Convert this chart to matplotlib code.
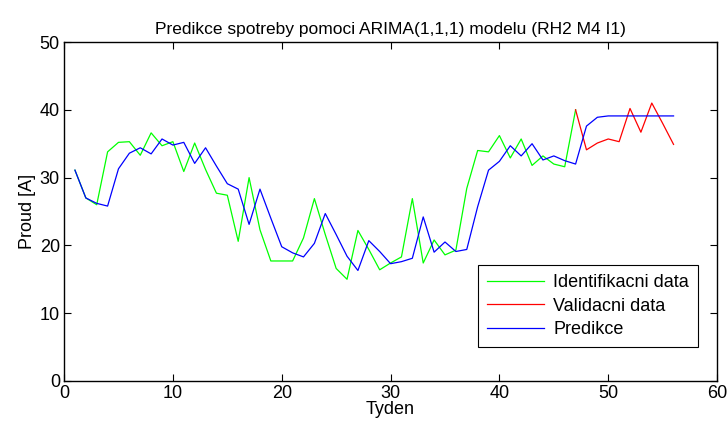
import numpy as np
import matplotlib.pyplot as plt

plt.rcParams['font.family'] = ['Liberation Sans', 'DejaVu Sans']

# identifikacni data, tydny 1..47
ident = [31.1, 27.0, 26.0, 33.8, 35.2, 35.3, 33.3, 36.6, 34.7, 35.3,
         30.9, 35.1, 31.2, 27.7, 27.4, 20.6, 30.0, 22.3, 17.7, 17.7,
         17.7, 21.1, 26.9, 21.6, 16.6, 15.0, 22.2, 19.4, 16.4, 17.4,
         18.3, 26.9, 17.4, 20.8, 18.6, 19.3, 28.4, 34.0, 33.8, 36.2,
         32.9, 35.7, 31.8, 33.2, 32.0, 31.6, 40.0]
# validacni data, tydny 47..56
valid = [40.0, 34.1, 35.1, 35.7, 35.3, 40.2, 36.7, 41.0, 38.0, 34.9]
# predikce ARIMA(1,1,1), tydny 1..56
pred = [31.1, 27.0, 26.2, 25.8, 31.3, 33.6, 34.4, 33.5, 35.7, 34.8,
        35.2, 32.1, 34.4, 31.7, 29.1, 28.3, 23.1, 28.3, 24.0, 19.8,
        18.9, 18.3, 20.3, 24.7, 21.6, 18.4, 16.3, 20.7, 19.1, 17.3,
        17.6, 18.1, 24.2, 19.0, 20.5, 19.1, 19.4, 25.7, 31.1, 32.4,
        34.7, 33.2, 35.0, 32.6, 33.2, 32.5, 32.0, 37.6, 38.9, 39.1,
        39.1, 39.1, 39.1, 39.1, 39.1, 39.1]

t_ident = np.arange(1, len(ident) + 1)
t_valid = np.arange(47, 47 + len(valid))
t_pred = np.arange(1, len(pred) + 1)

fig = plt.figure(figsize=(7.28, 4.29), dpi=100)
ax = fig.add_axes([0.088, 0.112, 0.897, 0.79])

ax.plot(t_ident, ident, color=(0, 1, 0), lw=0.9, label='Identifikacni data')
ax.plot(t_valid, valid, color=(1, 0, 0), lw=0.9, label='Validacni data')
ax.plot(t_pred, pred, color=(0, 0, 1), lw=0.9, label='Predikce')

ax.set_xlim(0, 60)
ax.set_ylim(0, 50)
ax.set_xticks(range(0, 61, 10))
ax.set_yticks(range(0, 51, 10))
ax.tick_params(direction='in', top=True, right=True, labelsize=13, length=5, pad=3)
for s in ax.spines.values():
    s.set_linewidth(1.0)

ax.set_title('Predikce spotreby pomoci ARIMA(1,1,1) modelu (RH2 M4 I1)', fontsize=12.5, pad=6)
ax.set_xlabel('Tyden', fontsize=13, labelpad=-1)
ax.set_ylabel('Proud [A]', fontsize=13, labelpad=3)

leg = ax.legend(loc='lower right', bbox_to_anchor=(0.971, 0.1), borderaxespad=0,
                fontsize=13, fancybox=False, framealpha=1, edgecolor='black',
                handlelength=3.2, handletextpad=0.5, labelspacing=0.35, borderpad=0.5)
leg.get_frame().set_linewidth(0.8)

fig.savefig('out.png', dpi=100)
